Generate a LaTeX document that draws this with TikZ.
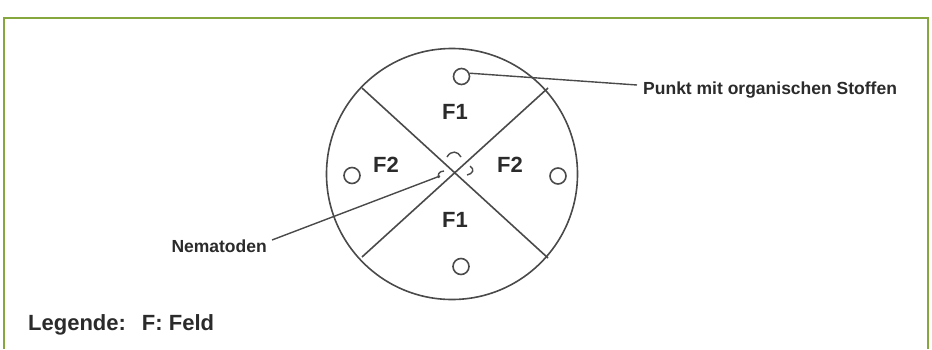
\documentclass[tikz,border=0pt]{standalone}
\usepackage{fontspec}
\setmainfont{Liberation Sans}
\definecolor{framegreen}{HTML}{86A73E}
\definecolor{ink}{HTML}{4A4A4A}
\definecolor{txt}{HTML}{2B2B2B}
\tikzset{
  stroke/.style={draw=ink, line width=1.6pt},
  hole/.style={circle, draw=ink, line width=1.6pt, minimum size=16pt, inner sep=0pt},
  lbl/.style={font=\bfseries\fontsize{17.5}{20}\selectfont, text=txt, inner sep=0pt},
  field/.style={font=\bfseries\fontsize{22}{26}\selectfont, text=txt, inner sep=0pt},
}
\begin{document}
\begin{tikzpicture}[x=1pt,y=-1pt]
\useasboundingbox[fill=white] (0,0) rectangle (932,349);
% frame
\draw[framegreen, line width=2pt] (4,349) -- (4,18) -- (928,18) -- (928,349);
% main circle
\node[circle, stroke, minimum size=251pt, inner sep=0pt] (main) at (452,174) {};
% cross
\coordinate (ul) at (362,88);
\coordinate (ur) at (548,88);
\coordinate (ll) at (362,257);
\coordinate (lr) at (548,258);
\draw[stroke] (ul) -- (lr);
\draw[stroke] (ur) -- (ll);
% holes
\node[hole] (htop) at (461.5,76.5) {};
\node[hole] (hleft) at (352,175.5) {};
\node[hole] (hright) at (558,176) {};
\node[hole] (hbot) at (461,266.5) {};
% field labels
\node[field] (f1t) at (455,112) {F1};
\node[field] (f2l) at (386,165) {F2};
\node[field] (f2r) at (510,165) {F2};
\node[field] (f1b) at (455,220) {F1};
% nematodes
\draw[stroke, line width=1.4pt] (447,157) .. controls (451,150) and (458,151) .. (461,157);
\draw[stroke, line width=1.4pt] (470,166) .. controls (475,169) and (473,174) .. (467,175);
\draw[stroke, line width=1.4pt] (444,171) .. controls (439,171) and (437,175) .. (439,178);
% labels
\node[lbl, anchor=base west] (ptext) at (643,94) {Punkt mit organischen Stoffen};
\coordinate (pend) at (637,85);
\draw[stroke, line width=1.4pt] (htop.22) -- (pend);
\node[lbl, anchor=base east] (nema) at (267,252) {Nematoden};
\coordinate (nstart) at (272,240);
\coordinate (nend) at (440,176);
\draw[stroke, line width=1.4pt] (nstart) -- (nend);
\node[field, anchor=base west] (legend) at (28,330) {Legende:\hspace{16pt}F: Feld};
\end{tikzpicture}
\end{document}
